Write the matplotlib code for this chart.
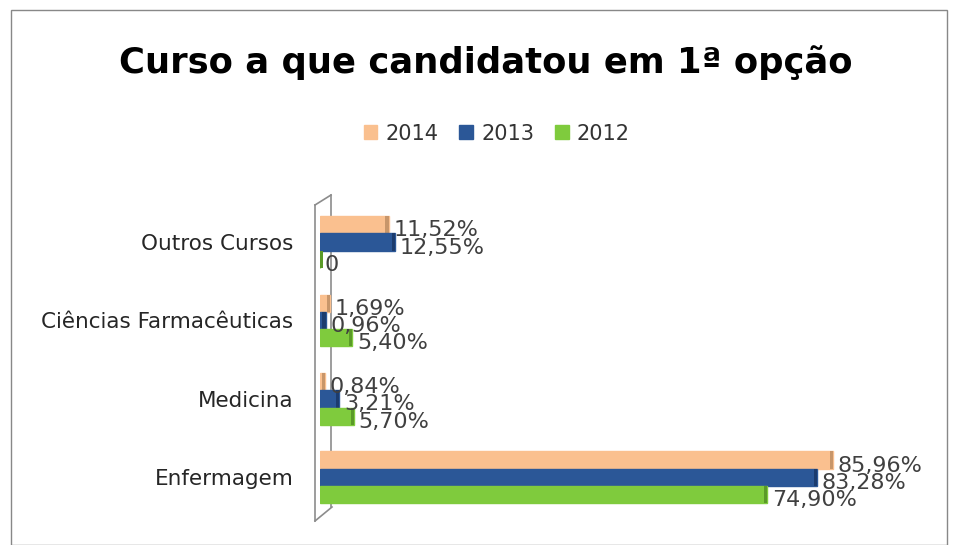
import matplotlib.pyplot as plt
from matplotlib.lines import Line2D
import numpy as np

# data (percent)
cursos = ['Outros Cursos', 'Ciências Farmacêuticas', 'Medicina', 'Enfermagem']
anos = ['2014', '2013', '2012']
v2014 = [11.52, 1.69, 0.84, 85.96]
v2013 = [12.55, 0.96, 3.21, 83.28]
v2012 = [0, 5.40, 5.70, 74.90]
rotulos = {
    '2014': ['11,52%', '1,69%', '0,84%', '85,96%'],
    '2013': ['12,55%', '0,96%', '3,21%', '83,28%'],
    '2012': ['0', '5,40%', '5,70%', '74,90%'],
}
cores = ['#FAC08F', '#2B5797', '#7FCB3D']
cores_topo = ['#C8966A', '#1C3C6E', '#5A9A28']

W, H = 959, 545
fig = plt.figure(figsize=(W / 100, H / 100), dpi=100)
fig.patches.append(plt.Rectangle((0.011, 0.0), 0.977, 0.982, transform=fig.transFigure,
                                 fill=False, edgecolor='#888888', lw=1))


def px(x, y):
    return x / W, 1 - y / H


# 3D side wall behind the bars
wall = [((315, 205), (315, 521)), ((315, 205), (331, 195)),
        ((315, 521), (332, 507)), ((331, 195), (331, 507))]
for (x0, y0), (x1, y1) in wall:
    a, b = px(x0, y0), px(x1, y1)
    fig.add_artist(Line2D([a[0], b[0]], [a[1], b[1]], color='#8C8C8C', lw=1.2,
                          transform=fig.transFigure, zorder=-1))

ax = fig.add_axes([320 / W, 0.045, 597 / W, 0.59])
ax.patch.set_visible(False)
y = np.arange(len(cursos))[::-1]
h = 0.22
for i, (ano, vals, cor, ct) in enumerate(zip(anos, [v2014, v2013, v2012], cores, cores_topo)):
    pos = y + (1 - i) * h
    ax.barh(pos, vals, height=h, color=cor, edgecolor=cor, label=ano)
    ends = [max(v - 0.55, 0) for v in vals]
    ax.barh(pos, [0.55] * len(vals), left=ends, height=h, color=ct, lw=0)
    for p, v, txt in zip(pos, vals, rotulos[ano]):
        ax.text(v + 0.8, p - 0.07, txt, va='center', ha='left', fontsize=16, color='#404040')

ax.set_xlim(0, 100)
ax.set_ylim(-0.55, 3.55)
ax.set_yticks(y)
ax.set_yticklabels(cursos, fontsize=15.5, color='#262626')
ax.tick_params(axis='y', length=0, pad=19)
ax.set_xticks([])
for s in ax.spines.values():
    s.set_visible(False)

fig.suptitle('Curso a que candidatou em 1ª opção', fontsize=25.5, fontweight='bold',
             x=0.507, y=0.917)
fig.legend(loc='center', bbox_to_anchor=(0.518, 0.755), ncol=3, frameon=False,
           fontsize=15, handlelength=0.65, handleheight=0.65, columnspacing=1.0,
           handletextpad=0.4, labelcolor='#333333')

fig.savefig('out.png', dpi=100)
